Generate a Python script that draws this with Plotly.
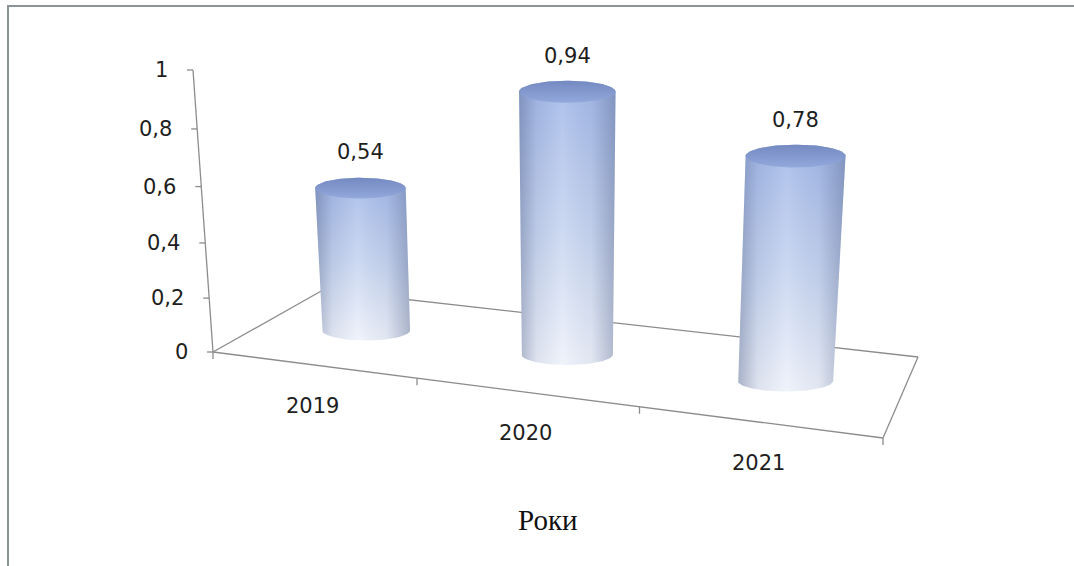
import numpy as np
import plotly.graph_objects as go

# ---------------- data ----------------
years = ["2019", "2020", "2021"]
values = [0.54, 0.94, 0.78]
value_labels = ["0,54", "0,94", "0,78"]
y_ticks = [0, 0.2, 0.4, 0.6, 0.8, 1.0]
y_tick_labels = ["0", "0,2", "0,4", "0,6", "0,8", "1"]
axis_title = "Роки"

# ---------------- layout / camera ----------------
W, H = 1074, 566
FL, FR, BL, BR = (213, 352), (883, 438), (323, 290), (918, 357)   # floor corners on screen
AXIS_TOP = (193, 70)        # screen point of value 1 above front-left corner
VANISH_X = 563.0            # vertical vanishing x (three-point perspective)
RX, RY = 46.0, 10.5         # cylinder radii (screen px at w=1)
GRID = "#8c8c8c"
TXT = "#1e1e1e"
NUM_FONT = dict(family="DejaVu Sans", size=21, color=TXT)


def floor_homography():
    x00, y00 = FL; x10, y10 = FR; x01, y01 = BL; x11, y11 = BR
    dx1, dx2, dx3 = x10 - x11, x01 - x11, x00 - x10 + x11 - x01
    dy1, dy2, dy3 = y10 - y11, y01 - y11, y00 - y10 + y11 - y01
    det = dx1 * dy2 - dx2 * dy1
    g = (dx3 * dy2 - dx2 * dy3) / det
    h = (dx1 * dy3 - dx3 * dy1) / det
    a, b, c = x10 - x00 + g * x10, x01 - x00 + h * x01, x00
    d, e, f = y10 - y00 + g * y10, y01 - y00 + h * y01, y00
    return a, b, c, d, e, f, g, h


A, B, C, D, E, F, G, Hh = floor_homography()
R = (AXIS_TOP[0] - C) / (VANISH_X - AXIS_TOP[0])
Q1 = VANISH_X * R
Q2 = AXIS_TOP[1] * (1 + R) - F
NCAT = len(years)


def proj(X, Z, Y):
    """world (category position, depth, value) -> plot coords (x, y up), w"""
    s = X / NCAT
    w = G * s + Hh * Z + 1 + R * Y
    u = (A * s + B * Z + C + Q1 * Y) / w
    v = (D * s + E * Z + F + Q2 * Y) / w
    return u, H - v, w


fig = go.Figure()


def add_poly(xs, ys, **kw):
    fig.add_trace(go.Scatter(x=list(xs), y=list(ys), mode="lines", fill="toself",
                             line=dict(width=0), hoverinfo="skip", showlegend=False, **kw))


def add_line(p0, p1, color=GRID, width=1.3):
    fig.add_trace(go.Scatter(x=[p0[0], p1[0]], y=[p0[1], p1[1]], mode="lines",
                             line=dict(color=color, width=width), hoverinfo="skip",
                             showlegend=False))


# floor (back and left edges are behind the cylinders)
f00, f30, f01, f31 = proj(0, 0, 0), proj(NCAT, 0, 0), proj(0, 1, 0), proj(NCAT, 1, 0)
add_line(f00, f01)
add_line(f01, f31)
add_line(f31, f30)
add_line(f00, f30)

# category ticks on the front edge
for k in range(NCAT + 1):
    p = proj(k, 0, 0)
    add_line((p[0], p[1]), (p[0], p[1] - 7))

# value axis
add_line(proj(0, 0, 0), proj(0, 0, 1))
annotations = []
for tv, tl in zip(y_ticks, y_tick_labels):
    p = proj(0, 0, tv)
    add_line((p[0] - 6, p[1]), (p[0], p[1]))
    annotations.append(dict(x=p[0] - 23, y=p[1], text=tl, showarrow=False,
                            xanchor="right", yanchor="middle", font=NUM_FONT))

# cylinders
for i, val in enumerate(values):
    Xc, Zc = i + 0.5, 0.5
    ub, yb, wb = proj(Xc, Zc, 0)
    ut, yt, wt = proj(Xc, Zc, val)
    rxb, ryb, rxt, ryt = RX / wb, RY / wb, RX / wt, RY / wt
    lower = np.linspace(np.pi, 2 * np.pi, 60)
    upper = np.linspace(0, np.pi, 60)
    xs = [ut - rxt, ub - rxb] + list(ub + rxb * np.cos(lower)) + [ub + rxb, ut + rxt] \
        + list(ut + rxt * np.cos(upper))
    ys = [yt, yb] + list(yb + ryb * np.sin(lower)) + [yb, yt] + list(yt + ryt * np.sin(upper))
    add_poly(xs, ys, fillgradient=dict(type="vertical",
                                       colorscale=[[0, "#eef2fa"], [0.45, "#cad7f1"],
                                                   [1, "#a3b9e8"]]))
    add_poly(xs, ys, fillgradient=dict(type="horizontal",
                                       colorscale=[[0, "rgba(70,85,125,0.40)"],
                                                   [0.18, "rgba(70,85,125,0.10)"],
                                                   [0.45, "rgba(255,255,255,0.10)"],
                                                   [0.75, "rgba(70,85,125,0.07)"],
                                                   [1, "rgba(70,85,125,0.38)"]]))
    th = np.linspace(0, 2 * np.pi, 120)
    add_poly(ut + rxt * np.cos(th), yt + ryt * np.sin(th),
             fillgradient=dict(type="vertical",
                               colorscale=[[0, "#93a9dc"], [1, "#7389c0"]]))
    annotations.append(dict(x=ut, y=yt + 36, text=value_labels[i], showarrow=False,
                            xanchor="center", yanchor="middle", font=NUM_FONT))
    pc = proj(Xc, 0, 0)
    annotations.append(dict(x=pc[0], y=pc[1] - 41, text=years[i], showarrow=False,
                            xanchor="center", yanchor="middle", font=NUM_FONT))

annotations.append(dict(x=548, y=H - 520, text=axis_title, showarrow=False,
                        xanchor="center", yanchor="middle",
                        font=dict(family="Liberation Serif", size=29, color="#111")))

fig.update_layout(
    width=W, height=H, margin=dict(l=0, r=0, t=0, b=0),
    paper_bgcolor="white", plot_bgcolor="white",
    xaxis=dict(range=[0, W], visible=False, fixedrange=True),
    yaxis=dict(range=[0, H], visible=False, fixedrange=True),
    annotations=annotations,
    shapes=[dict(type="rect", xref="x", yref="y", x0=8, y0=H - 6, x1=W + 20, y1=-20,
                 line=dict(color="#8a9494", width=2), layer="above")],
    showlegend=False,
)

fig.write_html("out.html")
